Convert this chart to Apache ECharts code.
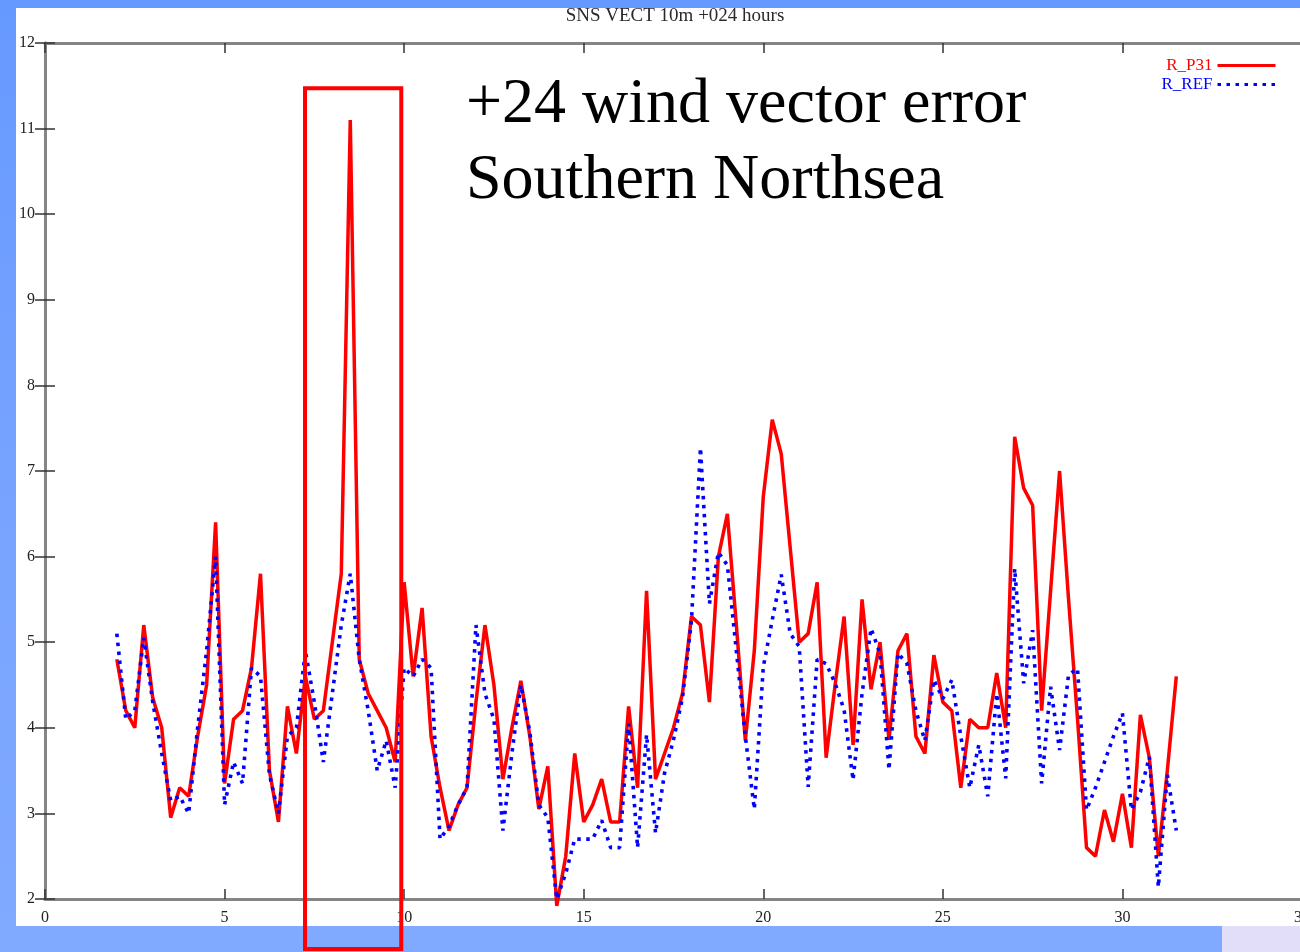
<!DOCTYPE html>
<html>
<head>
<meta charset="utf-8">
<script src="https://cdn.jsdelivr.net/npm/echarts@6/dist/echarts.min.js"></script>
<style>
  html, body { margin:0; padding:0; width:1300px; height:952px; overflow:hidden;
    background: linear-gradient(to bottom, #6699ff 0%, #7aa5ff 60%, #80aaff 100%); }
  #panel { position:absolute; left:16px; top:8px; width:1284px; height:918px; background:#ffffff; }
  #corner { position:absolute; left:1222px; top:926px; width:78px; height:26px; background:#e2def9; }
  #chart { position:absolute; left:0; top:0; width:1330px; height:952px; }
</style>
</head>
<body>
<div id="panel"></div>
<div id="corner"></div>
<div id="chart"></div>
<script>
// ---- data (time in days, 6-hourly) ----
const days = [
  2, 2.25, 2.5, 2.75, 3, 3.25, 3.5, 3.75, 4, 4.25, 4.5, 4.75,
  5, 5.25, 5.5, 5.75, 6, 6.25, 6.5, 6.75, 7, 7.25, 7.5, 7.75,
  8, 8.25, 8.5, 8.75, 9, 9.25, 9.5, 9.75, 10, 10.25, 10.5, 10.75,
  11, 11.25, 11.5, 11.75, 12, 12.25, 12.5, 12.75, 13, 13.25, 13.5, 13.75,
  14, 14.25, 14.5, 14.75, 15, 15.25, 15.5, 15.75, 16, 16.25, 16.5, 16.75,
  17, 17.25, 17.5, 17.75, 18, 18.25, 18.5, 18.75, 19, 19.25, 19.5, 19.75,
  20, 20.25, 20.5, 20.75, 21, 21.25, 21.5, 21.75, 22, 22.25, 22.5, 22.75,
  23, 23.25, 23.5, 23.75, 24, 24.25, 24.5, 24.75, 25, 25.25, 25.5, 25.75,
  26, 26.25, 26.5, 26.75, 27, 27.25, 27.5, 27.75, 28, 28.25, 28.5, 28.75,
  29, 29.25, 29.5, 29.75, 30, 30.25, 30.5, 30.75, 31, 31.25, 31.5
];
const rP31 = [
  4.8, 4.2, 4.0, 5.2,   4.35, 4.0, 2.95, 3.3,   3.2, 3.9, 4.5, 6.4,
  3.35, 4.1, 4.2, 4.7,  5.8, 3.5, 2.9, 4.25,    3.7, 4.6, 4.1, 4.2,
  5.0, 5.8, 11.1, 4.8,  4.4, 4.2, 4.0, 3.6,     5.7, 4.6, 5.4, 3.9,
  3.3, 2.8, 3.1, 3.3,   4.3, 5.2, 4.5, 3.4,     4.0, 4.55, 3.9, 3.05,
  3.55, 1.92, 2.5, 3.7, 2.9, 3.1, 3.4, 2.9,     2.9, 4.25, 3.3, 5.6,
  3.4, 3.7, 4.0, 4.4,   5.3, 5.2, 4.3, 6.0,     6.5, 5.2, 3.85, 4.9,
  6.7, 7.6, 7.2, 6.1,   5.0, 5.1, 5.7, 3.65,    4.5, 5.3, 3.8, 5.5,
  4.45, 5.0, 3.86, 4.9, 5.1, 3.9, 3.7, 4.85,    4.3, 4.2, 3.3, 4.1,
  4.0, 4.0, 4.64, 4.0,  7.4, 6.8, 6.6, 4.2,     5.6, 7.0, 5.5, 4.1,
  2.6, 2.5, 3.04, 2.67, 3.23, 2.6, 4.15, 3.65,  2.5, 3.5, 4.6
];
const rREF = [
  5.1, 4.1, 4.2, 5.05,  4.3, 3.7, 3.15, 3.2,    3.0, 4.0, 4.9, 6.0,
  3.1, 3.6, 3.35, 4.7,  4.6, 3.45, 3.0, 3.9,    4.0, 4.9, 4.3, 3.6,
  4.4, 5.2, 5.8, 4.8,   4.2, 3.5, 3.85, 3.3,    4.7, 4.6, 4.8, 4.7,
  2.7, 2.85, 3.1, 3.3,  5.2, 4.4, 4.1, 2.8,     3.7, 4.5, 3.95, 3.1,
  2.95, 2.0, 2.3, 2.7,  2.7, 2.7, 2.92, 2.6,    2.6, 4.05, 2.6, 3.92,
  2.77, 3.47, 3.86, 4.35, 5.25, 7.27, 5.45, 6.05, 5.9, 4.9, 3.9, 3.05,
  4.71, 5.26, 5.79, 5.1, 4.95, 3.31, 4.8, 4.75,  4.52, 4.21, 3.39, 4.4,
  5.16, 4.87, 3.51, 4.87, 4.75, 4.2, 3.85, 4.56, 4.34, 4.56, 3.9, 3.3,
  3.8, 3.2, 4.4, 3.41,  5.86, 4.52, 5.14, 3.35,  4.48, 3.74, 4.62, 4.69,
  3.04, 3.3, 3.6, 3.9,  4.17, 3.04, 3.25, 3.66,  2.14, 3.45, 2.8
];
const seriesNames = ['R_P31', 'R_REF'];
const titleText = 'SNS VECT 10m +024 hours';
const noteLines = ['+24 wind vector error', 'Southern Northsea'];
// highlighted period (days) and its top (value)
const boxFrom = 7.24, boxTo = 9.92, boxTop = 11.47;

const serif = "'Liberation Serif', 'Times New Roman', 'DejaVu Serif', serif";
const pair = (xs, ys) => xs.map((x, i) => [x, ys[i]]);

const chart = echarts.init(document.getElementById('chart'), null, {renderer: 'canvas'});

const axisLine = { show: true, lineStyle: { color: '#858585', width: 3 } };
const tick = { show: true, inside: true, length: 10, lineStyle: { color: '#333', width: 1.5 } };

const option = {
  backgroundColor: 'transparent',
  animation: false,
  title: {
    text: titleText, left: 670, top: 2, textAlign: 'center',
    textStyle: { fontFamily: serif, fontSize: 19, fontWeight: 'normal', color: '#2a2a2a' }
  },
  legend: {
    orient: 'vertical', right: 48, top: 52, align: 'right',
    itemWidth: 58, itemHeight: 14, itemGap: 2,
    itemStyle: { opacity: 0 },
    lineStyle: { width: 3 },
    textStyle: { fontFamily: serif, fontSize: 17, lineHeight: 16 },
    data: [
      { name: seriesNames[0], textStyle: { color: '#ff0000' } },
      { name: seriesNames[1], textStyle: { color: '#0000ff' } }
    ]
  },
  grid: { left: 45, right: 28, top: 43, bottom: 53, show: false },
  xAxis: [
    { type: 'value', min: 0, max: 35, interval: 5, position: 'bottom',
      axisLine, axisTick: tick, splitLine: { show: false },
      axisLabel: { fontFamily: serif, fontSize: 16, color: '#222', margin: 11 } },
    { type: 'value', min: 0, max: 35, interval: 5, position: 'top',
      axisLine, axisTick: tick, splitLine: { show: false }, axisLabel: { show: false } }
  ],
  yAxis: [
    { type: 'value', min: 2, max: 12, interval: 1, position: 'left',
      axisLine, axisTick: tick, splitLine: { show: false },
      axisLabel: { fontFamily: serif, fontSize: 16, color: '#222', margin: 10 } },
    { type: 'value', min: 2, max: 12, interval: 1, position: 'right',
      axisLine, axisTick: tick, splitLine: { show: false }, axisLabel: { show: false } }
  ],
  series: [
    { name: seriesNames[0], type: 'line', data: pair(days, rP31), symbol: 'none',
      clip: false, z: 3,
      lineStyle: { color: '#ff0000', width: 3.5 }, itemStyle: { color: '#ff0000' } },
    { name: seriesNames[1], type: 'line', data: pair(days, rREF), symbol: 'none',
      clip: false, z: 4,
      lineStyle: { color: '#0000ff', width: 3.6, type: [3.5, 5.5] }, itemStyle: { color: '#0000ff' } }
  ]
};
chart.setOption(option);

const p1 = chart.convertToPixel({ gridIndex: 0 }, [boxFrom, boxTop]);
const p2 = chart.convertToPixel({ gridIndex: 0 }, [boxTo, boxTop]);
chart.setOption({
  graphic: [
    { type: 'rect', z: 100, silent: true,
      shape: { x: p1[0], y: p1[1], width: p2[0] - p1[0], height: 949 - p1[1] },
      style: { fill: 'none', stroke: '#ff0000', lineWidth: 4 } },
    { type: 'text', z: 100, silent: true, left: 466, top: 73,
      style: { text: noteLines[0], font: "64px " + serif, fill: '#000' } },
    { type: 'text', z: 100, silent: true, left: 466, top: 149,
      style: { text: noteLines[1], font: "64px " + serif, fill: '#000' } }
  ]
});
</script>
</body>
</html>
